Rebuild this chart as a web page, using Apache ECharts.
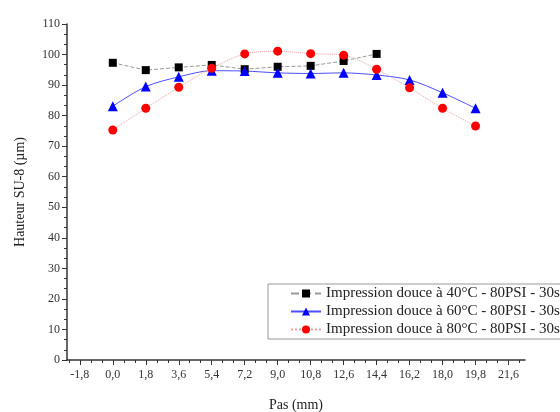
<!DOCTYPE html>
<html>
<head>
<meta charset="utf-8">
<script src="https://cdn.jsdelivr.net/npm/echarts@6/dist/echarts.min.js"></script>
<style>
  html, body { margin: 0; padding: 0; background: #fff; }
  #main { width: 560px; height: 412px; }
</style>
</head>
<body>
<div id="main"></div>
<script>
// données
const pas = [0, 1.8, 3.6, 5.4, 7.2, 9.0, 10.8, 12.6, 14.4, 16.2, 18.0, 19.8];
const hauteur40 = [97.3, 94.9, 95.8, 96.6, 95.2, 96.0, 96.3, 97.9, 100.2];
const hauteur60 = [83.1, 89.5, 92.7, 94.7, 94.6, 94.0, 93.8, 94.0, 93.3, 91.7, 87.5, 82.4];
const hauteur80 = [75.3, 82.4, 89.3, 95.5, 100.2, 101.1, 100.3, 99.8, 95.2, 89.1, 82.4, 76.6];

const xTicks = [-1.8, 0, 1.8, 3.6, 5.4, 7.2, 9.0, 10.8, 12.6, 14.4, 16.2, 18.0, 19.8, 21.6];
const xMinorTicks = [-2.4, -1.2, -0.6, 0.6, 1.2, 2.4, 3.0, 4.2, 4.8, 6.0, 6.6, 7.8, 8.4,
  9.6, 10.2, 11.4, 12.0, 13.2, 13.8, 15.0, 15.6, 16.8, 17.4, 18.6, 19.2, 20.4, 21.0, 22.2];

const noms = [
  'Impression douce à 40°C - 80PSI - 30s',
  'Impression douce à 60°C - 80PSI - 30s',
  'Impression douce à 80°C - 80PSI - 30s'
];

const police = 'Liberation Serif';
const pts = (ys) => ys.map((y, i) => [pas[i], y]);

const chartDom = document.getElementById('main');
const myChart = echarts.init(chartDom);

const option = {
  backgroundColor: '#fff',
  animation: false,
  textStyle: { fontFamily: police },
  grid: { left: 67, right: 35, top: 24, bottom: 52, outerBoundsMode: 'none' },
  legend: {
    left: 268,
    top: 284,
    orient: 'vertical',
    itemGap: 3,
    itemWidth: 30,
    itemHeight: 10,
    padding: [2, 8, 2, 22],
    borderColor: '#999',
    borderWidth: 1,
    backgroundColor: '#fff',
    textStyle: { fontFamily: police, fontSize: 15, color: '#222' },
    data: noms
  },
  xAxis: [
    {
      type: 'value',
      min: -2.5,
      max: 22.5,
      name: 'Pas (mm)',
      nameLocation: 'middle',
      nameGap: 38,
      nameTextStyle: { fontFamily: police, fontSize: 14, color: '#222' },
      splitLine: { show: false },
      axisLine: { onZero: false, lineStyle: { color: '#333', width: 1.5 } },
      axisTick: { customValues: xTicks, length: 5, lineStyle: { color: '#333' } },
      axisLabel: {
        customValues: xTicks,
        fontFamily: police,
        fontSize: 12,
        color: '#333',
        margin: 9,
        formatter: (v) => v.toFixed(1).replace('.', ',')
      }
    },
    {
      type: 'value',
      min: -2.5,
      max: 22.5,
      position: 'bottom',
      splitLine: { show: false },
      axisLine: { show: false, onZero: false },
      axisTick: { customValues: xMinorTicks, length: 3, lineStyle: { color: '#333' } },
      axisLabel: { show: false }
    }
  ],
  yAxis: {
    type: 'value',
    min: 0,
    max: 110,
    interval: 10,
    name: 'Hauteur SU-8 (µm)',
    nameLocation: 'middle',
    nameGap: 40,
    nameTextStyle: { fontFamily: police, fontSize: 14, color: '#222' },
    splitLine: { show: false },
    axisLine: { show: true, onZero: false, lineStyle: { color: '#333', width: 1.5 } },
    axisTick: { length: 5, lineStyle: { color: '#333' } },
    minorTick: { show: true, splitNumber: 3, length: 3, lineStyle: { color: '#333' } },
    axisLabel: { fontFamily: police, fontSize: 12, color: '#333', margin: 7 }
  },
  series: [
    {
      name: noms[0],
      type: 'line',
      data: pts(hauteur40),
      symbol: 'rect',
      symbolSize: 8,
      itemStyle: { color: '#000' },
      lineStyle: { color: '#999', width: 1, type: 'dashed' }
    },
    {
      name: noms[1],
      type: 'line',
      data: pts(hauteur60),
      smooth: 0.3,
      symbol: 'triangle',
      symbolSize: 10,
      itemStyle: { color: '#0000ff' },
      lineStyle: { color: '#4d4dff', width: 1 }
    },
    {
      name: noms[2],
      type: 'line',
      data: pts(hauteur80),
      smooth: 0.3,
      symbol: 'circle',
      symbolSize: 9,
      itemStyle: { color: '#ff0000' },
      lineStyle: { color: '#f5a0a0', width: 1, type: 'dotted' }
    }
  ]
};

myChart.setOption(option);
window.addEventListener('resize', () => {
  myChart.resize();
});
</script>
</body>
</html>
